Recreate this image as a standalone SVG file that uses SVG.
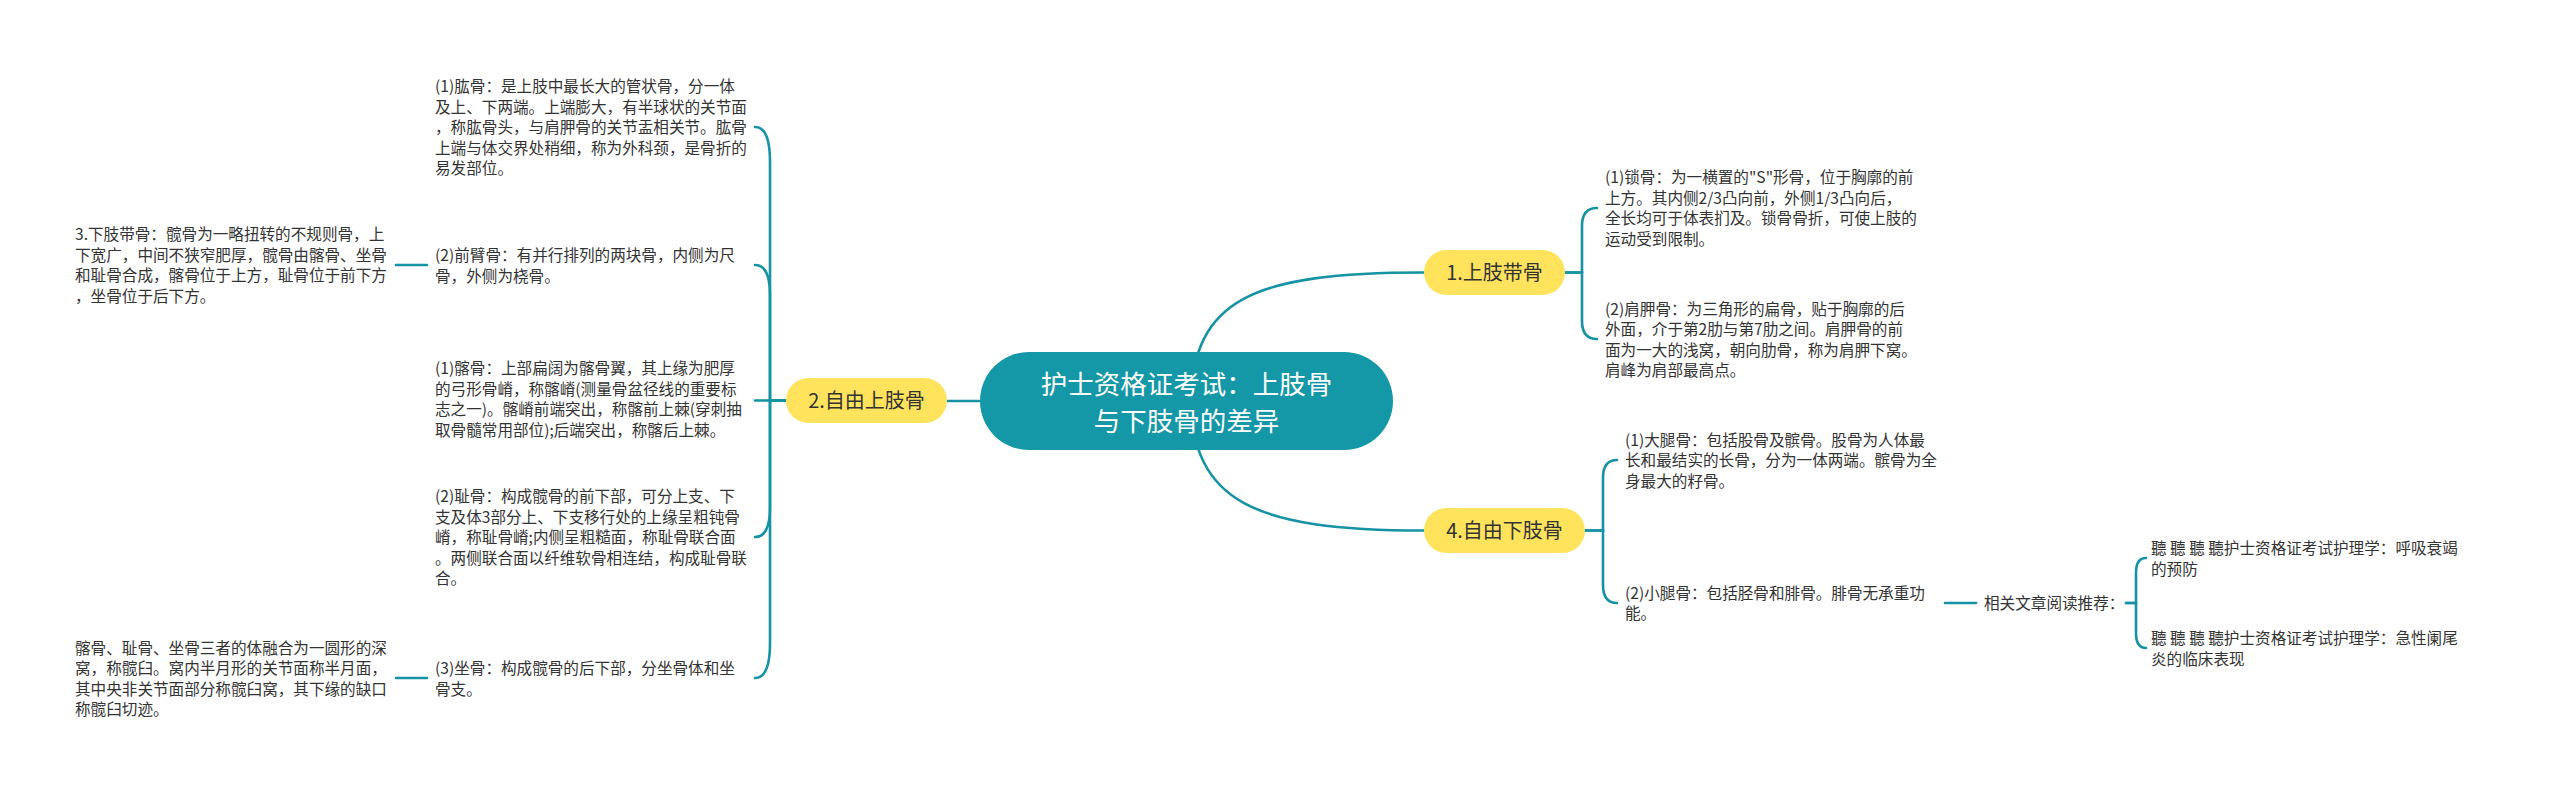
<svg xmlns="http://www.w3.org/2000/svg" width="2560" height="793" viewBox="0 0 2560 793">
<style>
.bg{fill:#ffffff}
.conn path{fill:none;stroke:#1592a3;stroke-width:2.6;stroke-linecap:round}
.t{font-family:"Noto Sans CJK SC","Noto Sans",sans-serif;font-size:15.6px;fill:#333333}
.root rect{fill:#1497a6}
.root text{font-family:"Noto Sans CJK SC","Noto Sans",sans-serif;font-size:26.5px;fill:#ffffff;text-anchor:middle}
.br rect{fill:#ffe35c}
.br text{font-family:"Noto Sans CJK SC","Noto Sans",sans-serif;font-size:20px;fill:#333333;text-anchor:middle}
</style>
<rect class="bg" x="0" y="0" width="2560" height="793"/>
<g id="connectors" class="conn">
<path d="M980 401 H947"/>
<path d="M1190 401 C1195 300 1250 272.5 1424 272.5"/>
<path d="M1190 401 C1195 500 1250 530.5 1424 530.5"/>
<path d="M786 400.5 H770 V162 Q770 127 755 127"/>
<path d="M786 400.5 H770 V295 Q770 265 755 265"/>
<path d="M786 400.5 H755"/>
<path d="M786 400.5 H770 V507 Q770 537 755 537"/>
<path d="M786 400.5 H770 V643 Q770 678 755 678"/>
<path d="M427 265 H396"/>
<path d="M427 678 H396"/>
<path d="M1565 272.5 H1582 V226 Q1582 208 1597 208"/>
<path d="M1565 272.5 H1582 V321 Q1582 339 1597 339"/>
<path d="M1585 530.5 H1603 V478 Q1603 460 1617 460"/>
<path d="M1585 530.5 H1603 V585 Q1603 603 1617 603"/>
<path d="M1945 603 H1976"/>
<path d="M2126 603 H2136 V573 Q2136 558 2146 558"/>
<path d="M2126 603 H2136 V633 Q2136 648 2146 648"/>
</g>
<g id="root" class="root">
<rect x="980" y="352" width="413" height="98" rx="49"/>
<text x="1186.5" y="393.5">护士资格证考试：上肢骨</text>
<text x="1186.5" y="430.5">与下肢骨的差异</text>
</g>
<g id="b1" class="br">
<rect x="1424" y="250" width="141" height="45" rx="22.5"/>
<text x="1494.5" y="279.5">1.上肢带骨</text>
</g>
<g id="b2" class="br">
<rect x="786" y="378" width="161" height="45" rx="22.5"/>
<text x="866.5" y="407.5">2.自由上肢骨</text>
</g>
<g id="b4" class="br">
<rect x="1424" y="508" width="161" height="45" rx="22.5"/>
<text x="1504.5" y="537.5">4.自由下肢骨</text>
</g>
<g id="n-humerus"><text class="t">
<tspan x="435" y="92">(1)肱骨：是上肢中最长大的管状骨，分一体</tspan>
<tspan x="435" y="112.5">及上、下两端。上端膨大，有半球状的关节面</tspan>
<tspan x="435" y="133">，称肱骨头，与肩胛骨的关节盂相关节。肱骨</tspan>
<tspan x="435" y="153.5">上端与体交界处稍细，称为外科颈，是骨折的</tspan>
<tspan x="435" y="174">易发部位。</tspan>
</text></g>
<g id="n-forearm"><text class="t">
<tspan x="435" y="261">(2)前臂骨：有并行排列的两块骨，内侧为尺</tspan>
<tspan x="435" y="281.5">骨，外侧为桡骨。</tspan>
</text></g>
<g id="n-lowergirdle"><text class="t">
<tspan x="75" y="240">3.下肢带骨：髋骨为一略扭转的不规则骨，上</tspan>
<tspan x="75" y="260.5">下宽广，中间不狭窄肥厚，髋骨由髂骨、坐骨</tspan>
<tspan x="75" y="281">和耻骨合成，髂骨位于上方，耻骨位于前下方</tspan>
<tspan x="75" y="301.5">，坐骨位于后下方。</tspan>
</text></g>
<g id="n-ilium"><text class="t">
<tspan x="435" y="374">(1)髂骨：上部扁阔为髂骨翼，其上缘为肥厚</tspan>
<tspan x="435" y="394.5">的弓形骨嵴，称髂嵴(测量骨盆径线的重要标</tspan>
<tspan x="435" y="415">志之一)。髂嵴前端突出，称髂前上棘(穿刺抽</tspan>
<tspan x="435" y="435.5">取骨髓常用部位);后端突出，称髂后上棘。</tspan>
</text></g>
<g id="n-pubis"><text class="t">
<tspan x="435" y="502">(2)耻骨：构成髋骨的前下部，可分上支、下</tspan>
<tspan x="435" y="522.5">支及体3部分上、下支移行处的上缘呈粗钝骨</tspan>
<tspan x="435" y="543">嵴，称耻骨嵴;内侧呈粗糙面，称耻骨联合面</tspan>
<tspan x="435" y="563.5">。两侧联合面以纤维软骨相连结，构成耻骨联</tspan>
<tspan x="435" y="584">合。</tspan>
</text></g>
<g id="n-ischium"><text class="t">
<tspan x="435" y="674">(3)坐骨：构成髋骨的后下部，分坐骨体和坐</tspan>
<tspan x="435" y="694.5">骨支。</tspan>
</text></g>
<g id="n-acetabulum"><text class="t">
<tspan x="75" y="653.5">髂骨、耻骨、坐骨三者的体融合为一圆形的深</tspan>
<tspan x="75" y="674">窝，称髋臼。窝内半月形的关节面称半月面，</tspan>
<tspan x="75" y="694.5">其中央非关节面部分称髋臼窝，其下缘的缺口</tspan>
<tspan x="75" y="715">称髋臼切迹。</tspan>
</text></g>
<g id="n-clavicle"><text class="t">
<tspan x="1605" y="183">(1)锁骨：为一横置的"S"形骨，位于胸廓的前</tspan>
<tspan x="1605" y="203.5">上方。其内侧2/3凸向前，外侧1/3凸向后，</tspan>
<tspan x="1605" y="224">全长均可于体表扪及。锁骨骨折，可使上肢的</tspan>
<tspan x="1605" y="244.5">运动受到限制。</tspan>
</text></g>
<g id="n-scapula"><text class="t">
<tspan x="1605" y="314.5">(2)肩胛骨：为三角形的扁骨，贴于胸廓的后</tspan>
<tspan x="1605" y="335">外面，介于第2肋与第7肋之间。肩胛骨的前</tspan>
<tspan x="1605" y="355.5">面为一大的浅窝，朝向肋骨，称为肩胛下窝。</tspan>
<tspan x="1605" y="376">肩峰为肩部最高点。</tspan>
</text></g>
<g id="n-thigh"><text class="t">
<tspan x="1625" y="445.5">(1)大腿骨：包括股骨及髌骨。股骨为人体最</tspan>
<tspan x="1625" y="466">长和最结实的长骨，分为一体两端。髌骨为全</tspan>
<tspan x="1625" y="486.5">身最大的籽骨。</tspan>
</text></g>
<g id="n-leg"><text class="t">
<tspan x="1625" y="598.5">(2)小腿骨：包括胫骨和腓骨。腓骨无承重功</tspan>
<tspan x="1625" y="619">能。</tspan>
</text></g>
<g id="n-related"><text class="t" x="1984" y="609">相关文章阅读推荐：</text></g>
<g id="n-link1"><text class="t">
<tspan x="2151" y="554">聽 聽 聽 聽护士资格证考试护理学：呼吸衰竭</tspan>
<tspan x="2151" y="574.5">的预防</tspan>
</text></g>
<g id="n-link2"><text class="t">
<tspan x="2151" y="644">聽 聽 聽 聽护士资格证考试护理学：急性阑尾</tspan>
<tspan x="2151" y="664.5">炎的临床表现</tspan>
</text></g>
</svg>
